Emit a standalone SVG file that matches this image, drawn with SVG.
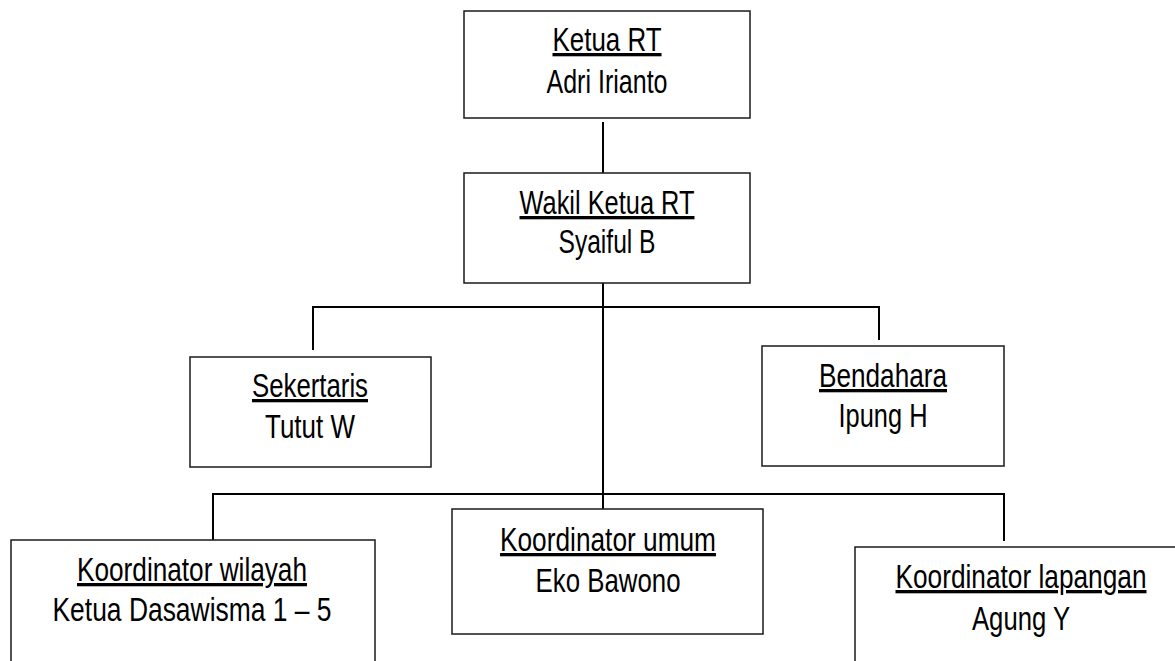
<svg xmlns="http://www.w3.org/2000/svg" width="1175" height="661" viewBox="0 0 1175 661">
<style>
.box{fill:#fff;stroke:#1a1a1a;stroke-width:1.5}
.con{fill:none;stroke:#000;stroke-width:2}
text{font-family:"Liberation Sans Narrow","Liberation Sans",Arial,sans-serif;font-size:33px;fill:#000;text-anchor:middle}
.t{text-decoration:underline}
</style>
<rect width="1175" height="661" fill="#fff"/>
<g id="connectors">
<line class="con" x1="603" y1="122" x2="603" y2="173"/>
<line class="con" x1="603" y1="283" x2="603" y2="509"/>
<polyline class="con" points="313,350 313,307 879,307 879,340"/>
<polyline class="con" points="213,540 213,494 1004,494 1004,541"/>
</g>
<g id="ketua">
<rect class="box" x="464" y="11" width="286" height="107"/>
<text class="t" x="607" y="51" textLength="109" lengthAdjust="spacingAndGlyphs">Ketua RT</text>
<text x="607" y="93" textLength="121" lengthAdjust="spacingAndGlyphs">Adri Irianto</text>
</g>
<g id="wakil">
<rect class="box" x="464" y="173" width="286" height="110"/>
<text class="t" x="607" y="214" textLength="175" lengthAdjust="spacingAndGlyphs">Wakil Ketua RT</text>
<text x="607" y="253" textLength="97" lengthAdjust="spacingAndGlyphs">Syaiful B</text>
</g>
<g id="sekertaris">
<rect class="box" x="190" y="357" width="241" height="110"/>
<text class="t" x="310" y="397" textLength="116" lengthAdjust="spacingAndGlyphs">Sekertaris</text>
<text x="310" y="438" textLength="90" lengthAdjust="spacingAndGlyphs">Tutut W</text>
</g>
<g id="bendahara">
<rect class="box" x="762" y="346" width="242" height="120"/>
<text class="t" x="883" y="387" textLength="128" lengthAdjust="spacingAndGlyphs">Bendahara</text>
<text x="883" y="427" textLength="89" lengthAdjust="spacingAndGlyphs">Ipung H</text>
</g>
<g id="koordinator-wilayah">
<rect class="box" x="11" y="540" width="364" height="140"/>
<text class="t" x="192" y="581" textLength="230" lengthAdjust="spacingAndGlyphs">Koordinator wilayah</text>
<text x="192" y="621" textLength="279" lengthAdjust="spacingAndGlyphs">Ketua Dasawisma 1 – 5</text>
</g>
<g id="koordinator-umum">
<rect class="box" x="452" y="509" width="311" height="125"/>
<text class="t" x="608" y="551" textLength="216" lengthAdjust="spacingAndGlyphs">Koordinator umum</text>
<text x="608" y="592" textLength="145" lengthAdjust="spacingAndGlyphs">Eko Bawono</text>
</g>
<g id="koordinator-lapangan">
<rect class="box" x="855" y="547" width="333" height="140"/>
<text class="t" x="1021" y="588" textLength="251" lengthAdjust="spacingAndGlyphs">Koordinator lapangan</text>
<text x="1021" y="630" textLength="98" lengthAdjust="spacingAndGlyphs">Agung Y</text>
</g>
</svg>
